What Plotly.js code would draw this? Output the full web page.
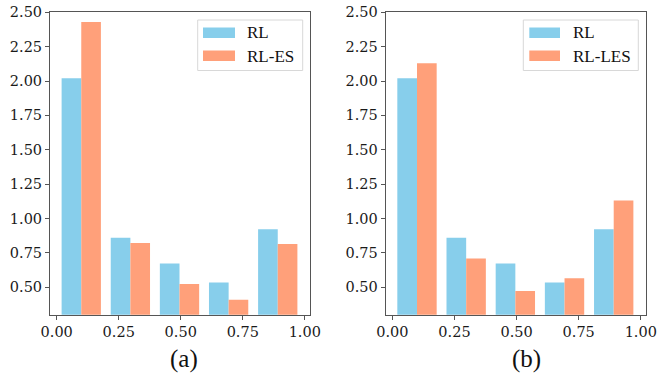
<!DOCTYPE html>
<html>
<head>
<meta charset="utf-8">
<script src="https://cdn.plot.ly/plotly-3.0.1.min.js"></script>
<style>html,body{margin:0;padding:0;background:#fff;}#chart{width:657px;height:376px;}</style>
</head>
<body>
<div id="chart"></div>
<script>
// Data
const binCenters = [0.099, 0.297, 0.495, 0.693, 0.891];
const rlValues = [2.02, 0.86, 0.672, 0.534, 0.922];
const rlesValues = [2.43, 0.822, 0.524, 0.408, 0.815];
const rllesValues = [2.13, 0.708, 0.473, 0.565, 1.13];
const xTickVals = [0, 0.25, 0.5, 0.75, 1.0];
const xTickText = ['0.00', '0.25', '0.50', '0.75', '1.00'];
const yTickVals = [0.5, 0.75, 1.0, 1.25, 1.5, 1.75, 2.0, 2.25, 2.5];
const yTickText = ['0.50', '0.75', '1.00', '1.25', '1.50', '1.75', '2.00', '2.25', '2.50'];
const seriesNamesA = ['RL', 'RL-ES'];
const seriesNamesB = ['RL', 'RL-LES'];
const panelLabels = ['(a)', '(b)'];

const W = 657, H = 376;
const blue = '#87CEEB', orange = '#FFA07A';
const SERIF = 'Liberation Serif';
const TICKSERIF = '"DejaVu Serif", "Liberation Serif", serif';
const tickFont = () => ({family: TICKSERIF, size: 14.5, color: '#1a1a1a'});

const traces = [
  {type: 'bar', x: binCenters, y: rlValues, name: seriesNamesA[0], marker: {color: blue, line: {width: 0}}, xaxis: 'x', yaxis: 'y', showlegend: false},
  {type: 'bar', x: binCenters, y: rlesValues, name: seriesNamesA[1], marker: {color: orange, line: {width: 0}}, xaxis: 'x', yaxis: 'y', showlegend: false},
  {type: 'bar', x: binCenters, y: rlValues, name: seriesNamesB[0], marker: {color: blue, line: {width: 0}}, xaxis: 'x2', yaxis: 'y2', showlegend: false},
  {type: 'bar', x: binCenters, y: rllesValues, name: seriesNamesB[1], marker: {color: orange, line: {width: 0}}, xaxis: 'x2', yaxis: 'y2', showlegend: false}
];

function xa(domain, anchor) {
  return {domain: domain, anchor: anchor, range: [-0.027, 1.021], tickmode: 'array', tickvals: xTickVals, ticktext: xTickText,
    ticks: 'outside', ticklen: 4, tickwidth: 1, tickcolor: '#555', showline: true, linecolor: '#555', linewidth: 1, mirror: true,
    showgrid: false, zeroline: false, tickfont: tickFont(), fixedrange: true};
}
function ya(anchor) {
  return {domain: [1 - 314.7 / H, 1 - 12.3 / H], anchor: anchor, range: [0.30, 2.50], tickmode: 'array', tickvals: yTickVals, ticktext: yTickText,
    ticks: 'outside', ticklen: 4, tickwidth: 1, tickcolor: '#555', showline: true, linecolor: '#555', linewidth: 1, mirror: true,
    showgrid: false, zeroline: false, tickfont: tickFont(), fixedrange: true};
}

const px = v => v / W, py = v => 1 - v / H;
const shapes = [];
const annotations = [];
function legend(x0, x1, patchX0, patchX1, textX, names) {
  shapes.push({type: 'rect', xref: 'paper', yref: 'paper', x0: px(x0), x1: px(x1), y0: py(70.5), y1: py(20), line: {color: '#d8d8d8', width: 1}, fillcolor: 'rgba(255,255,255,0.8)', layer: 'above'});
  shapes.push({type: 'rect', xref: 'paper', yref: 'paper', x0: px(patchX0), x1: px(patchX1), y0: py(38), y1: py(27.5), line: {width: 0}, fillcolor: blue, layer: 'above'});
  shapes.push({type: 'rect', xref: 'paper', yref: 'paper', x0: px(patchX0), x1: px(patchX1), y0: py(61), y1: py(50.5), line: {width: 0}, fillcolor: orange, layer: 'above'});
  annotations.push({xref: 'paper', yref: 'paper', x: px(textX), y: py(33), xanchor: 'left', yanchor: 'middle', text: names[0], showarrow: false, font: {family: SERIF, size: 17, color: '#111'}});
  annotations.push({xref: 'paper', yref: 'paper', x: px(textX), y: py(56), xanchor: 'left', yanchor: 'middle', text: names[1], showarrow: false, font: {family: SERIF, size: 17, color: '#111'}});
}
legend(197.7, 302.7, 203, 235, 245, seriesNamesA);
legend(523.3, 638.3, 529.3, 560, 571, seriesNamesB);

annotations.push({xref: 'paper', yref: 'paper', x: px(184), y: py(359), xanchor: 'center', yanchor: 'middle', text: panelLabels[0], showarrow: false, font: {family: SERIF, size: 25, color: '#111'}});
annotations.push({xref: 'paper', yref: 'paper', x: px(526.7), y: py(359), xanchor: 'center', yanchor: 'middle', text: panelLabels[1], showarrow: false, font: {family: SERIF, size: 25, color: '#111'}});

const layout = {
  width: W, height: H,
  margin: {l: 0, r: 0, t: 0, b: 0},
  font: {family: SERIF, size: 15, color: '#1a1a1a'},
  paper_bgcolor: '#fff', plot_bgcolor: '#fff',
  barmode: 'group', bargap: 0.2, bargroupgap: 0,
  showlegend: false,
  xaxis: xa([50 / W, 310 / W], 'y'),
  yaxis: ya('x'),
  xaxis2: xa([385.7 / W, 646 / W], 'y2'),
  yaxis2: ya('x2'),
  shapes: shapes,
  annotations: annotations
};

Plotly.newPlot('chart', traces, layout, {displayModeBar: false, staticPlot: true});
</script>
</body>
</html>
